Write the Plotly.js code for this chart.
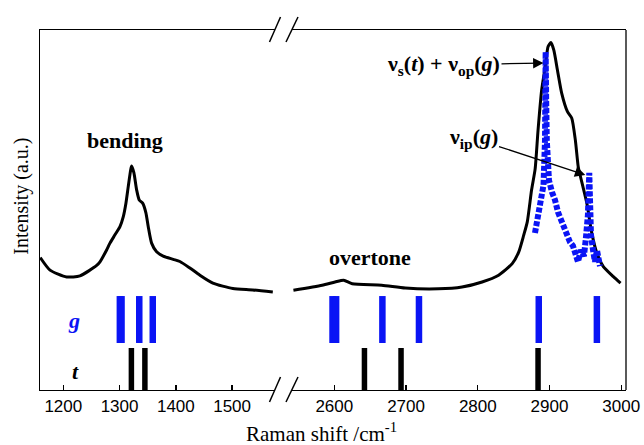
<!DOCTYPE html>
<html>
<head>
<meta charset="utf-8">
<script src="https://cdn.plot.ly/plotly-3.0.1.min.js"></script>
<style>html,body{margin:0;padding:0;background:#fff;}#chart{width:644px;height:445px;}</style>
</head>
<body>
<div id="chart"></div>
<script>
// ---- data ----
// black measured spectrum, low-wavenumber segment
const specLowX = [1159, 1176.4, 1206.0, 1229.6, 1259.3, 1265.2, 1277.0, 1282.9, 1291.8, 1300.7, 1306.5, 1311.3, 1315.4, 1319.7, 1321.4, 1325.5, 1330.3, 1334.9, 1341.0, 1346.8, 1350.9, 1356.9, 1365.8, 1377.5, 1395.3, 1407.2, 1424.9, 1442.7, 1465.8, 1501.3, 1536.8, 1572.3];
const specLowY = [36.8, 33.3, 31.4, 31.7, 34.6, 35.6, 38.9, 40.8, 43.1, 45.4, 48.1, 51.9, 56.5, 61.1, 62.2, 60.3, 55.6, 52.8, 51.9, 49.2, 45.4, 40.8, 38.4, 37.2, 36.3, 35.7, 33.9, 31.9, 29.7, 28.2, 27.8, 27.2];
// black measured spectrum, high-wavenumber segment
const specHighX = [2543, 2583, 2601, 2613, 2625, 2666, 2699, 2745, 2778, 2806, 2829, 2848, 2857, 2864, 2869, 2875, 2880, 2884, 2889, 2894, 2898, 2902, 2906, 2911, 2917, 2925, 2931, 2936, 2940, 2942, 2952, 2959, 2966, 2975, 2989, 2999];
const specHighY = [27.7, 29.1, 30.0, 30.5, 29.5, 29.1, 28.3, 28.1, 28.6, 30.0, 31.9, 35.1, 38.3, 43.0, 46.7, 55.6, 61.5, 72.2, 83.3, 89.8, 95.4, 96.5, 94.4, 88.9, 82.4, 77.3, 75.5, 69.4, 62.0, 60.2, 51.9, 43.5, 38.0, 34.3, 31.5, 29.7];
// blue dotted spectrum (g)
const gSpecX = [2879.7, 2883.9, 2888.1, 2891.6, 2893.7, 2894.3, 2894.6, 2895.3, 2896.2, 2897.1, 2899.2, 2903.4, 2907.6, 2911.8, 2916.0, 2920.1, 2924.3, 2928.5, 2932.7, 2936.8, 2939.6, 2943.8, 2948.0, 2950.7, 2953.5, 2955.4, 2956.4, 2957.8, 2960.6, 2963.3, 2966.1, 2970.3];
const gSpecY = [43.6, 47.8, 52.8, 56.9, 69.4, 80.6, 93.9, 80.6, 69.4, 61.1, 58.3, 55.0, 52.8, 49.4, 47.2, 45.0, 43.9, 41.1, 40.0, 37.5, 35.6, 38.9, 37.2, 42.2, 48.6, 60.3, 52.8, 43.1, 38.9, 35.6, 38.9, 34.4];
// calculated mode positions (cm-1)
const gModes = [1300.5, 1303.5, 1335, 1359, 2597.5, 2602.5, 2667, 2718, 2885, 2966];
const tModes = [1321, 1345, 2642, 2693, 2884];
const gBand = [13.06, 26.1];   // bottom/top of g marks (intensity units)
const tBand = [0, 11.67];      // bottom/top of t marks
// axis ticks
const lowTicks = [1200, 1300, 1400, 1500];
const highTicks = [2600, 2700, 2800, 2900, 3000];
const lowRange = [1158.6, 1576.2];
const highRange = [2541, 3006.6];
const breakAt = 1590; // boundary between the two segments

// ---- geometry helpers ----
const L = 40, R = 626, T = 30, B = 390;
const P = (px, py) => ({x: (px - L) / (R - L), y: (B - py) / (B - T)});
const dLowEnd = (275 - L) / (R - L);
const dHighStart = (292 - L) / (R - L);
const pxPerLow = (dLowEnd * (R - L)) / (lowRange[1] - lowRange[0]);
const pxPerHigh = ((1 - dHighStart) * (R - L)) / (highRange[1] - highRange[0]);

const SERIF = "Liberation Serif";
const SANS = "Liberation Sans";
const blue = "#0a14f5";

function modeBars(modes, band, color, wpx) {
  const lo = modes.filter(v => v < breakAt), hi = modes.filter(v => v >= breakAt);
  const mk = (xs, xa, per) => ({
    type: "bar", x: xs, y: xs.map(() => band[1] - band[0]), base: xs.map(() => band[0]),
    width: xs.map(() => wpx / per), marker: {color: color, line: {width: 0}},
    xaxis: xa, yaxis: "y", hoverinfo: "skip"
  });
  return [mk(lo, "x", pxPerLow), mk(hi, "x2", pxPerHigh)];
}

const traces = [
  {type: "scatter", mode: "lines", x: specLowX, y: specLowY, xaxis: "x", yaxis: "y",
   line: {color: "#000", width: 3, shape: "spline", smoothing: 0.6}},
  {type: "scatter", mode: "lines", x: specHighX, y: specHighY, xaxis: "x2", yaxis: "y",
   line: {color: "#000", width: 3, shape: "spline", smoothing: 0.6}},
  {type: "scatter", mode: "lines", x: gSpecX, y: gSpecY, xaxis: "x2", yaxis: "y",
   line: {color: blue, width: 6, dash: "5px,2px"}},
  ...modeBars(gModes, gBand, blue, 6.5),
  ...modeBars(tModes, tBand, "#000", 5.5)
];

const axisCommon = {
  showline: true, mirror: true, linecolor: "#000", linewidth: 1.3,
  ticks: "inside", ticklen: 5, tickwidth: 1.3, tickcolor: "#000",
  showgrid: false, zeroline: false, anchor: "y",
  tickfont: {family: SANS, size: 17, color: "#000"}
};

function slash(px0, py0, px1, py1) {
  const a = P(px0, py0), b = P(px1, py1);
  return {type: "line", xref: "paper", yref: "paper", x0: a.x, y0: a.y, x1: b.x, y1: b.y,
          line: {color: "#000", width: 1.5}};
}

const shapes = [
  {type: "line", xref: "paper", yref: "paper", x0: 1, x1: 1, y0: 0, y1: 1, line: {color: "#000", width: 1.3}},
  slash(269.5, 42, 280.5, 17), slash(286, 42, 298, 17),
  slash(269.5, 402, 280.5, 377), slash(286, 402, 298, 377)
];

function txt(text, px, py, size, color, weight, extra) {
  const p = P(px, py);
  return Object.assign({text: text, xref: "paper", yref: "paper", x: p.x, y: p.y,
    xanchor: "center", yanchor: "middle", showarrow: false,
    font: {family: SERIF, size: size, color: color, weight: weight}}, extra || {});
}
function arrowTxt(text, tipPx, tipPy, cx, cy) {
  const p = P(tipPx, tipPy);
  return {text: text, xref: "paper", yref: "paper", x: p.x, y: p.y,
    ax: cx - tipPx, ay: cy - tipPy, showarrow: true, arrowhead: 2, arrowsize: 1.6,
    arrowwidth: 1.3, arrowcolor: "#000",
    font: {family: SERIF, size: 22, color: "#000", weight: "bold"}};
}

const annotations = [
  txt("bending", 125, 140, 22, "#000", "bold"),
  txt("overtone", 369.5, 257, 22, "#000", "bold"),
  arrowTxt("ν<sub>s</sub>(<i>t</i>) + ν<sub>op</sub>(<i>g</i>)", 543.5, 63, 443.5, 65),
  arrowTxt("ν<sub>ip</sub>(<i>g</i>)", 585.3, 175, 473, 138),
  txt("<i>g</i>", 74, 320, 22, blue, "bold"),
  txt("<i>t</i>", 75.5, 371, 22, "#000", "bold"),
  txt("Intensity (a.u.)", 22, 196.7, 20, "#000", "normal", {textangle: -90}),
  txt("Raman shift /cm<sup>-1</sup>", 321, 432, 21, "#000", "normal")
];

const layout = {
  width: 644, height: 445,
  margin: {l: L, r: 644 - R, t: T, b: 445 - B, pad: 0},
  paper_bgcolor: "#fff", plot_bgcolor: "#fff",
  font: {family: SERIF, color: "#000"},
  showlegend: false, barmode: "overlay",
  xaxis: Object.assign({}, axisCommon, {domain: [0, dLowEnd], range: lowRange, tickvals: lowTicks}),
  xaxis2: Object.assign({}, axisCommon, {domain: [dHighStart, 1], range: highRange, tickvals: highTicks}),
  yaxis: {range: [0, 100], showline: true, linecolor: "#000", linewidth: 1.3, ticks: "",
          showticklabels: false, showgrid: false, zeroline: false, anchor: "x"},
  shapes: shapes,
  annotations: annotations
};

Plotly.newPlot("chart", traces, layout, {displayModeBar: false, staticPlot: true});
</script>
</body>
</html>
